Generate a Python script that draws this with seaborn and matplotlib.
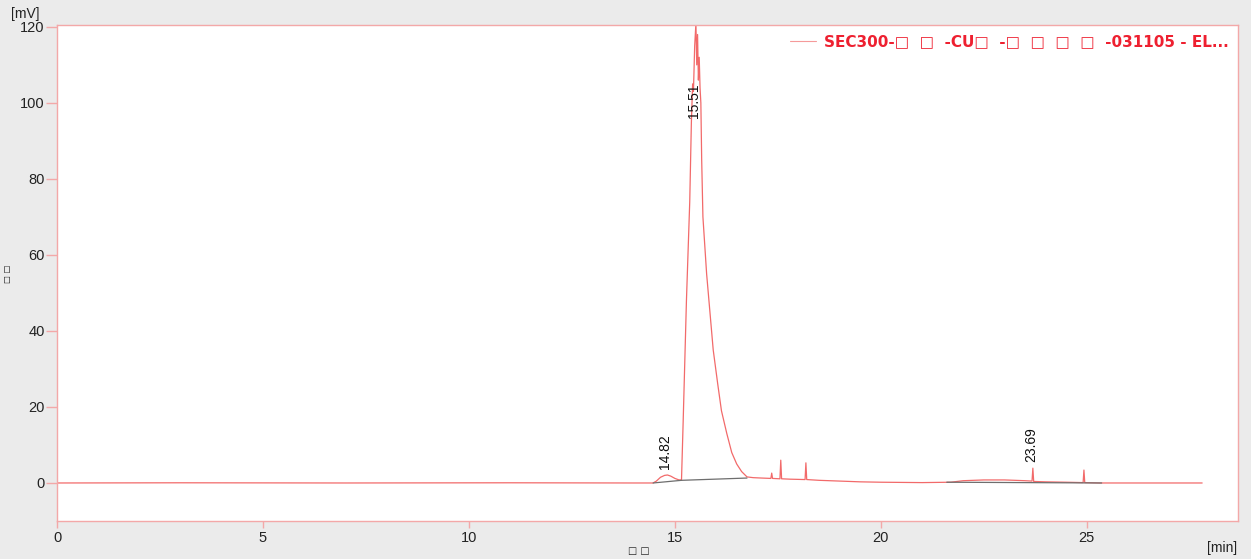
import numpy as np
import pandas as pd
import matplotlib
matplotlib.use("Agg")
import matplotlib.pyplot as plt
import seaborn as sns

# chromatogram trace (time in min, signal in mV)
times = [0.0, 3.0, 7.0, 11.0, 14.0, 14.47, 14.55, 14.65, 14.75, 14.82, 14.9, 15.0, 15.1,
         15.16, 15.20, 15.24, 15.28, 15.32, 15.36, 15.40, 15.43, 15.45, 15.48, 15.51,
         15.53, 15.55, 15.57, 15.59, 15.61, 15.63, 15.65, 15.68, 15.77, 15.85, 15.93,
         16.04, 16.13, 16.26, 16.38, 16.50, 16.62, 16.75, 16.9, 17.1, 17.33, 17.35,
         17.37, 17.55, 17.57, 17.59, 17.8, 18.16, 18.18, 18.20, 18.5, 19.0, 19.5, 20.0,
         21.0, 21.7, 22.0, 22.5, 23.0, 23.5, 23.67, 23.69, 23.71, 24.0, 24.5, 24.91,
         24.93, 24.95, 25.3, 26.0, 27.0, 27.8]
signal = [0.0, 0.05, 0.0, 0.05, 0.0, 0.0, 0.5, 1.5, 2.0, 2.1, 1.8, 1.2, 0.8,
          0.8, 16, 32, 48, 61, 74, 95, 105, 103, 115, 121,
          110, 118, 106, 112, 104, 100, 85, 70, 55, 45, 35,
          26, 19, 13, 8, 5, 3, 1.6, 1.4, 1.3, 1.2, 2.6,
          1.2, 1.1, 6.0, 1.1, 1.0, 0.9, 5.3, 0.9, 0.7, 0.5, 0.3, 0.2,
          0.1, 0.2, 0.6, 0.8, 0.8, 0.6, 0.5, 3.9, 0.4, 0.3, 0.2, 0.1,
          3.4, 0.1, 0.0, 0.0, 0.0, 0.0]

# integration baselines
base1_t = [14.47, 15.16, 16.75]
base1_v = [0.0, 0.7, 1.3]
base2_t = [21.6, 25.36]
base2_v = [0.2, 0.0]

# peak annotations
peak_rt = [14.82, 15.51, 23.69]
peak_label_y = [3.8, 96, 5.5]

legend_label = "SEC300-□  □  -CU□  -□  □  □  □  -031105 - EL..."

sns.set_theme(style="white")
plt.rcParams["font.family"] = ["Liberation Sans", "DejaVu Sans"]
plt.rcParams["xtick.bottom"] = True
plt.rcParams["ytick.left"] = True

trace = pd.DataFrame({"time": times, "mV": signal})

fig = plt.figure(figsize=(12.51, 5.59), dpi=100, facecolor="#ebebeb")
ax = fig.add_axes([0.0456, 0.068, 0.9440, 0.8873])
ax.set_facecolor("white")

sns.lineplot(data=trace, x="time", y="mV", sort=False, estimator=None,
             color="#f26a6a", linewidth=0.9, label=legend_label, ax=ax)
ax.plot(base1_t, base1_v, color="#6e6e6e", linewidth=0.9)
ax.plot(base2_t, base2_v, color="#6e6e6e", linewidth=0.9)

for rt, ly in zip(peak_rt, peak_label_y):
    ax.text(rt - 0.05, ly, f"{rt:.2f}", rotation=90, ha="center", va="bottom",
            fontsize=10, color="#111111",
            family=["Liberation Sans Narrow", "Liberation Sans", "DejaVu Sans"])

ax.set_xlim(0, 28.67)
ax.set_ylim(-10, 120.5)
ax.set_xticks([0, 5, 10, 15, 20, 25])
ax.set_yticks([0, 20, 40, 60, 80, 100, 120])
ax.set_xlabel("")
ax.set_ylabel("")

spine_col = "#f3a8a8"
for s in ax.spines.values():
    s.set_color(spine_col)
    s.set_linewidth(1.0)
ax.tick_params(axis="both", direction="out", width=1.0, color=spine_col,
               labelsize=10.5, labelcolor="#222222")
ax.tick_params(axis="x", length=5, pad=2)
ax.tick_params(axis="y", length=8, pad=1)

leg = ax.legend(loc="upper right", frameon=False, handlelength=1.7,
                borderaxespad=0.2, handletextpad=0.5,
                prop={"family": ["DejaVu Sans"], "weight": "bold", "size": 11})
for txt in leg.get_texts():
    txt.set_color("#ee2030")
for ln in leg.get_lines():
    ln.set_linewidth(0.8)
    ln.set_color("#f59a9a")

fig.text(0.009, 0.975, "[mV]", fontsize=10, color="#222222", ha="left", va="center")
fig.text(0.006, 0.51, "□ □", fontsize=6, rotation=90, color="#222222",
         ha="center", va="center", family=["DejaVu Sans"])
fig.text(0.511, 0.014, "□ □", fontsize=7, color="#222222", ha="center", va="center",
         family=["DejaVu Sans"])
fig.text(0.977, 0.02, "[min]", fontsize=10, color="#222222", ha="center", va="center")

fig.savefig("out.png", dpi=100, facecolor=fig.get_facecolor())
